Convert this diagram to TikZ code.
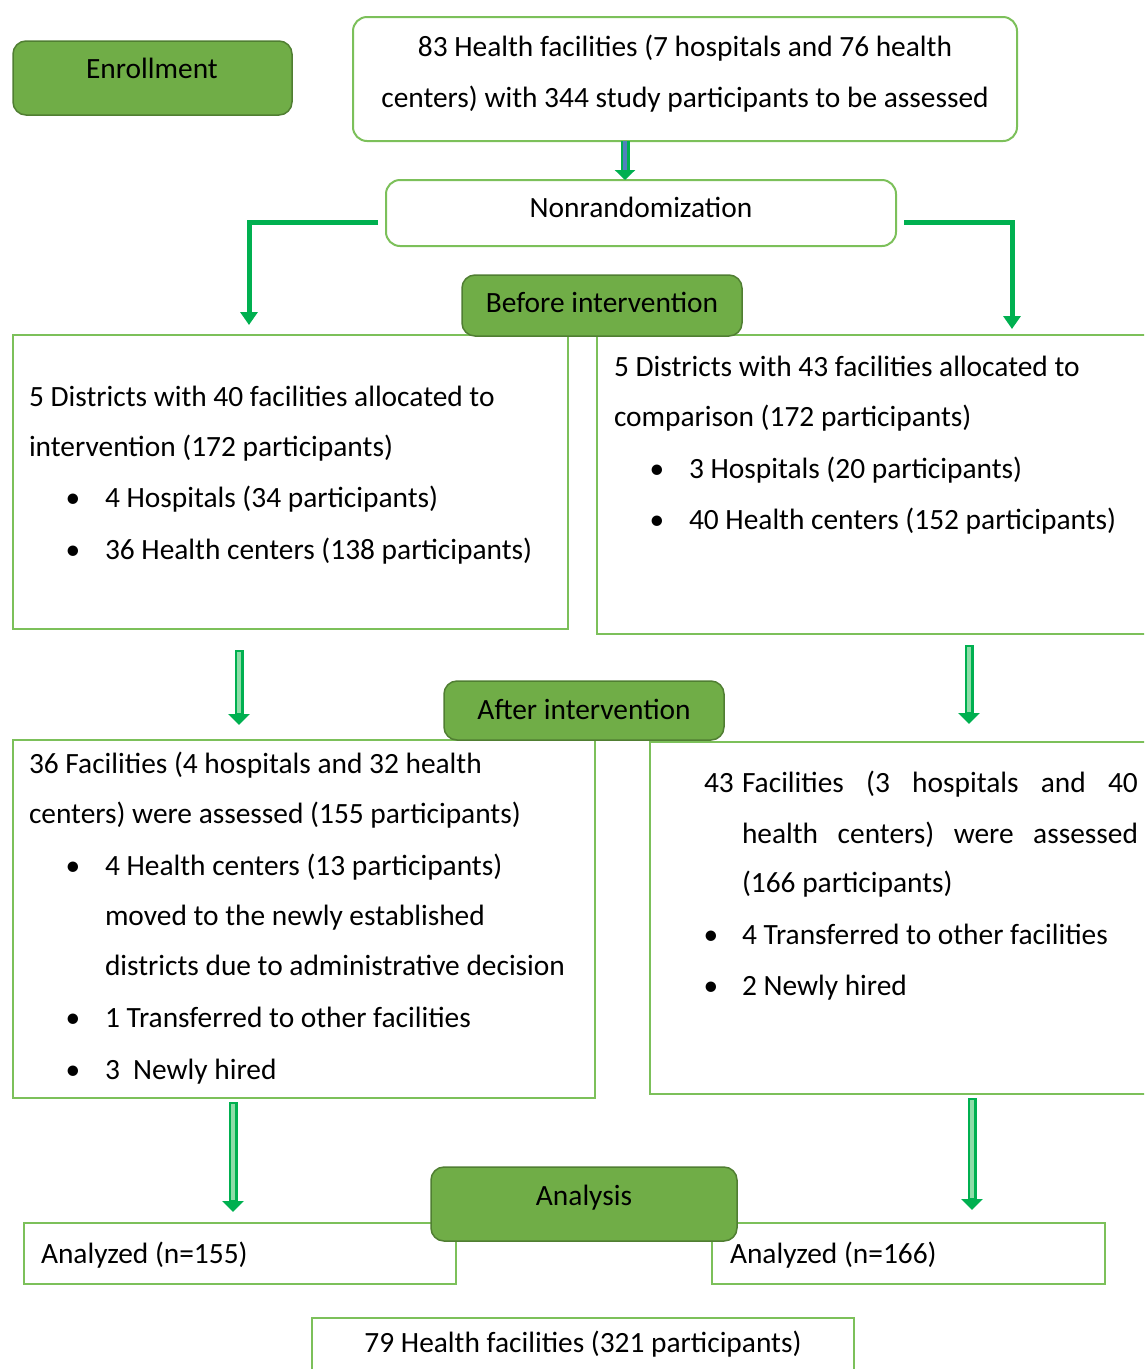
\documentclass[tikz,border=0pt]{standalone}
\usepackage{fontspec}
\setmainfont{Carlito}
\usetikzlibrary{arrows.meta,calc}
\definecolor{fillgreen}{HTML}{70AD47}
\definecolor{darkgreen}{HTML}{507E32}
\definecolor{linegreen}{HTML}{7CC05A}
\definecolor{arrowgreen}{HTML}{00B050}
\definecolor{arrowlight}{HTML}{8FDDA8}
\definecolor{arrowblue}{HTML}{4F81BD}
\newcommand\fsz{\fontsize{29.4}{35}\selectfont}
\tikzset{
  x=1pt,y=-1pt,
  box/.style={draw=linegreen,line width=2,fill=white,inner sep=0,outer sep=0,anchor=north west},
  rbox/.style={box,rounded corners=14},
  gbox/.style={draw=darkgreen,fill=fillgreen,line width=1.5,rounded corners=13,inner sep=0,outer sep=0,anchor=north west},
  txt/.style={font=\fsz,inner sep=0,outer sep=0,anchor=base west},
  ctxt/.style={font=\fsz,inner sep=0,outer sep=0,anchor=base},
  elbow/.style={draw=arrowgreen,line width=5,-{Triangle[length=13,width=17]}},
  hollowout/.style={draw=arrowgreen,line width=9,-{Triangle[length=11,width=21]}},
  hollowin/.style={draw=arrowlight,line width=4,shorten >=12},
  bluein/.style={draw=arrowblue,line width=4,shorten >=10},
  blueout/.style={draw=arrowgreen,line width=9,-{Triangle[length=10,width=20]}},
}
\begin{document}
\begin{tikzpicture}
\useasboundingbox (0,0) rectangle (1144,1369);
\clip (0,0) rectangle (1144,1369);

% Enrollment
\node[gbox,minimum width=279,minimum height=74] (enr) at (13,41) {};
\node[ctxt] (enrt) at (152,78) {Enrollment};

% top box
\node[rbox,minimum width=664,minimum height=124] (top) at (353,17) {};
\node[ctxt] (top1) at (685,56) {83 Health facilities (7 hospitals and 76 health};
\node[ctxt] (top2) at (685,107) {centers) with 344 study participants to be assessed};

% Nonrandomization
\node[rbox,minimum width=510,minimum height=66] (non) at (386,180) {};
\node[ctxt] (nont) at (641,217) {Nonrandomization};

% arrow top -> non
\draw[blueout] (top.south -| 625,0) -- (non.north -| 625,0);
\draw[bluein] (top.south -| 625,0) -- (non.north -| 625,0);

% Left box 1
\node[box,minimum width=555,minimum height=294] (L1) at (13,335) {};
\node[txt] (l1a) at (29,406) {5 Districts with 40 facilities allocated to};
\node[txt] (l1b) at (29,456) {intervention (172 participants)};
\node[ctxt] (l1cb) at (73,507) {•};
\node[txt] (l1c) at (105,507) {4 Hospitals (34 participants)};
\node[ctxt] (l1db) at (73,559) {•};
\node[txt] (l1d) at (105,559) {36 Health centers (138 participants)};

% Right box 1
\node[box,minimum width=580,minimum height=299] (R1) at (597,335) {};
\node[txt] (r1a) at (614,376) {5 Districts with 43 facilities allocated to};
\node[txt] (r1b) at (614,426) {comparison (172 participants)};
\node[ctxt] (r1cb) at (657,478) {•};
\node[txt] (r1c) at (689,478) {3 Hospitals (20 participants)};
\node[ctxt] (r1db) at (657,529) {•};
\node[txt] (r1d) at (689,529) {40 Health centers (152 participants)};

% Before intervention
\node[gbox,minimum width=280,minimum height=61] (bef) at (462,275) {};
\node[ctxt] (beft) at (602,312) {Before intervention};

% elbow arrows
\draw[elbow] ($(non.west)+(-8,9)$) -| ($(L1.north west)+(236,-10)$);
\draw[elbow] ($(non.east)+(8,9)$) -| ($(R1.north west)+(415,-6)$);

% Left box 2
\node[box,minimum width=582,minimum height=358] (L2) at (13,740) {};
\node[txt] (l2a) at (29,773) {36 Facilities (4 hospitals and 32 health};
\node[txt] (l2b) at (29,823) {centers) were assessed (155 participants)};
\node[ctxt] (l2cb) at (73,875) {•};
\node[txt] (l2c) at (105,875) {4 Health centers (13 participants)};
\node[txt] (l2d) at (105,925) {moved to the newly established};
\node[txt] (l2e) at (105,975) {districts due to administrative decision};
\node[ctxt] (l2fb) at (73,1027) {•};
\node[txt] (l2f) at (105,1027) {1 Transferred to other facilities};
\node[ctxt] (l2gb) at (73,1079) {•};
\node[txt] (l2g) at (105,1079) {3\ \ Newly hired};

% Right box 2
\node[box,minimum width=527,minimum height=352] (R2) at (650,742) {};
\node[txt] (r2a0) at (704,792) {43};
\node[txt] (r2a) at (742,792) {\makebox[396pt][s]{Facilities (3 hospitals and 40}};
\node[txt] (r2b) at (742,843) {\makebox[396pt][s]{health centers) were assessed}};
\node[txt] (r2c) at (742,892) {(166 participants)};
\node[ctxt] (r2db) at (711,944) {•};
\node[txt] (r2d) at (742,944) {4 Transferred to other facilities};
\node[ctxt] (r2eb) at (711,995) {•};
\node[txt] (r2e) at (742,995) {2 Newly hired};

% After intervention
\node[gbox,minimum width=280,minimum height=59] (aft) at (444,681) {};
\node[ctxt] (aftt) at (584,719) {After intervention};

% hollow arrows 1 -> 2
\draw[hollowout] ($(L1.south west)+(226,21)$) -- ($(L2.north west)+(226,-15)$);
\draw[hollowin] ($(L1.south west)+(226,23)$) -- ($(L2.north west)+(226,-15)$);
\draw[hollowout] ($(R1.south west)+(372,11)$) -- ($(R2.north west)+(319,-18)$);
\draw[hollowin] ($(R1.south west)+(372,13)$) -- ($(R2.north west)+(319,-18)$);

% Analyzed boxes
\node[box,minimum width=432,minimum height=61] (an1) at (24,1223) {};
\node[txt] (an1t) at (41,1263) {Analyzed (n=155)};
\node[box,minimum width=393,minimum height=61] (an2) at (712,1223) {};
\node[txt] (an2t) at (730,1263) {Analyzed (n=166)};

% hollow arrows 2 -> analyzed
\draw[hollowout] ($(L2.south west)+(220,4)$) -- ($(an1.north west)+(209,-11)$);
\draw[hollowin] ($(L2.south west)+(220,6)$) -- ($(an1.north west)+(209,-11)$);
\draw[hollowout] ($(R2.south west)+(322,4)$) -- ($(an2.north west)+(260,-13)$);
\draw[hollowin] ($(R2.south west)+(322,6)$) -- ($(an2.north west)+(260,-13)$);

% Analysis
\node[gbox,minimum width=306,minimum height=74] (ana) at (431,1167) {};
\node[ctxt] (anat) at (584,1205) {Analysis};

% bottom box
\node[box,minimum width=542,minimum height=80] (bot) at (312,1318) {};
\node[ctxt] (bott) at (583,1352) {79 Health facilities (321 participants)};
\end{tikzpicture}
\end{document}
